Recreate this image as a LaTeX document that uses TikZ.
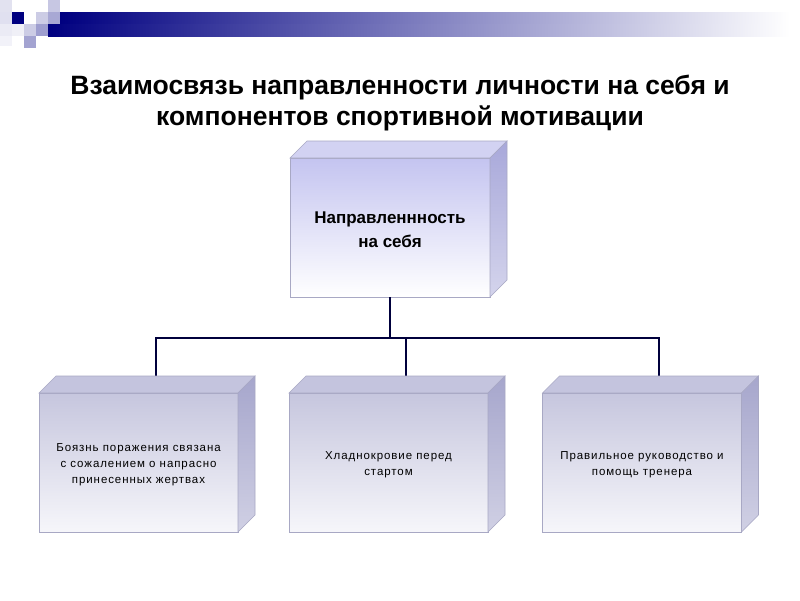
\documentclass[tikz,border=0pt]{standalone}
\usepackage{fontspec}
\setmainfont{Liberation Sans}
\newfontfamily\spc[LetterSpace=8]{Liberation Sans}
\definecolor{navy}{HTML}{000080}
\definecolor{linecol}{HTML}{00003C}
\definecolor{edgecol}{HTML}{A8A8C4}
\definecolor{tfTop}{HTML}{C4C4F0}
\definecolor{bfTop}{HTML}{C6C6DE}
\definecolor{bfBot}{HTML}{F6F6FA}
\definecolor{tTop}{HTML}{D2D2F2}
\definecolor{tSideA}{HTML}{A8A8DA}
\definecolor{tSideB}{HTML}{D4D4EC}
\definecolor{bTop}{HTML}{C4C4DE}
\definecolor{bSideA}{HTML}{A6A6CC}
\definecolor{bSideB}{HTML}{D0D0E4}
\definecolor{paleA}{HTML}{E2E2F0}
\tikzset{
  topfront/.style={draw=edgecol, line width=0.6pt, outer sep=0pt, inner sep=0pt,
    minimum width=200pt, minimum height=139pt, top color=tfTop, bottom color=white, align=center},
  botfront/.style={draw=edgecol, line width=0.6pt, outer sep=0pt, inner sep=0pt,
    minimum width=199pt, minimum height=139pt, top color=bfTop, bottom color=bfBot, align=center},
  topface/.style={draw=edgecol, line width=0.6pt, fill=tTop},
  sideface/.style={draw=edgecol, line width=0.6pt, top color=tSideA, bottom color=tSideB},
  btopface/.style={draw=edgecol, line width=0.6pt, fill=bTop},
  bsideface/.style={draw=edgecol, line width=0.6pt, top color=bSideA, bottom color=bSideB},
  conn/.style={draw=linecol, line width=2pt},
  boxtext/.style={font=\spc\fontsize{11.5}{16}\selectfont},
}
\newcommand{\cubefaces}[3]{%
  \path[#2] (#1.north west) -- ++(17,-17) -- ([shift={(17,-17)}]#1.north east) -- (#1.north east) -- cycle;
  \path[#3] (#1.north east) -- ++(17,-17) -- ([shift={(17,-17)}]#1.south east) -- (#1.south east) -- cycle;
}
\begin{document}
\begin{tikzpicture}[x=1pt,y=-1pt]
\useasboundingbox[fill=white] (0,0) rectangle (800,600);
% header decoration
\fill[paleA] (0,0) rectangle (12,12);
\fill[white!88!navy] (0,12) rectangle (12,24);
\fill[white!92!navy] (0,24) rectangle (12,36);
\fill[white!95!navy] (0,36) rectangle (12,46);
\fill[white!94!navy] (12,24) rectangle (24,36);
\fill[navy] (12,12) rectangle (24,24);
\fill[white!80!navy] (24,24) rectangle (36,36);
\fill[white!62!navy] (36,24) rectangle (48,36);
\fill[white!64!navy] (24,36) rectangle (36,48);
\fill[white!80!navy] (36,12) rectangle (48,24);
\fill[white!78!navy] (48,0) rectangle (60,12);
\fill[white!66!navy] (48,12) rectangle (60,24);
\shade[left color=navy, right color=white] (60,12) rectangle (790,24);
\shade[left color=navy, right color=white] (48,24) rectangle (790,36);
% title
\node[font=\fontsize{26.5}{31}\selectfont\bfseries, align=center, inner sep=0pt] (title) at (400,103)
  {Взаимосвязь направленности личности на себя и\\компонентов спортивной мотивации};
% boxes
\coordinate (hub) at (390,338);
\node[topfront] (top) at (390,227.5) {};
\node[botfront] (b1) at (138.5,462.5) {};
\node[botfront] (b2) at (388.5,462.5) {};
\node[botfront] (b3) at (642,462.5) {};
\coordinate (t1) at ([shift={(17,-17)}]b1.north);
\coordinate (t2) at ([shift={(17,-17)}]b2.north);
\coordinate (t3) at ([shift={(17,-17)}]b3.north);
% connectors
\draw[conn] (top.south) -- (hub);
\draw[conn] (t1) |- (hub) -| (t3);
\draw[conn] (t2) -- (t2 |- hub);
% cube faces
\cubefaces{top}{topface}{sideface}
\cubefaces{b1}{btopface}{bsideface}
\cubefaces{b2}{btopface}{bsideface}
\cubefaces{b3}{btopface}{bsideface}
% texts
\node[font=\fontsize{17}{24}\selectfont\bfseries, align=center] (toptext) at ([yshift=-2pt]top) {Направленнность\\на себя};
\node[boxtext, align=center] (txt1) at ([yshift=-2pt]b1) {Боязнь поражения связана\\с сожалением о напрасно\\принесенных жертвах};
\node[boxtext, align=center] (txt2) at ([yshift=-2pt]b2) {Хладнокровие перед\\стартом};
\node[boxtext, align=center] (txt3) at ([yshift=-2pt]b3) {Правильное руководство и\\помощь тренера};
\end{tikzpicture}
\end{document}
